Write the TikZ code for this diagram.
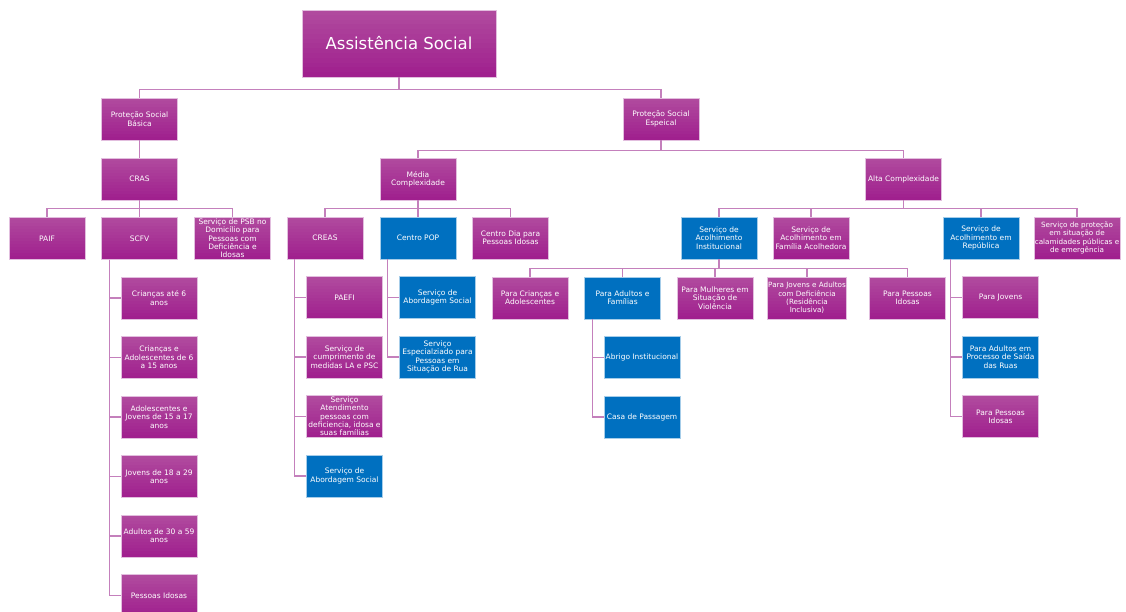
\documentclass[tikz,border=0pt]{standalone}
\usepackage{fontspec}
\setmainfont{DejaVu Sans}
\usetikzlibrary{positioning, calc}

\definecolor{magTop}{RGB}{176,74,158}
\definecolor{magBot}{RGB}{160,32,142}
\definecolor{popBlue}{RGB}{0,112,192}
\definecolor{linkPink}{RGB}{196,128,188}
\definecolor{rimPink}{RGB}{226,190,222}

\newcommand\unitfont{\fontsize{7.5}{8.3}\selectfont}
\newcommand\tightfont{\fontsize{7.2}{8.3}\selectfont}
\newcommand\rootfont{\fontsize{16.5}{19}\selectfont}

\tikzset{
  unit/.style={rectangle, minimum width=76pt, minimum height=42pt, inner sep=1pt,
    align=center, text=white, font=\unitfont, draw=rimPink, line width=0.6pt,
    fill=magBot, path picture={
      \foreach \k in {0,...,13}{
        \pgfmathsetmacro\mix{100-\k*100/13}
        \fill[magTop!\mix!magBot]
          ($(path picture bounding box.north west)!{\k/14}!(path picture bounding box.south west)$)
          rectangle ($(path picture bounding box.north east)!{(\k+1.4)/14}!(path picture bounding box.south east)$);
      }}},
  blueunit/.style={rectangle, minimum width=76pt, minimum height=42pt, inner sep=1pt,
    align=center, text=white, font=\unitfont, draw=popBlue!35!white, line width=0.6pt,
    fill=popBlue},
  link/.style={draw=linkPink, line width=1.2pt}
}

\begin{document}
\begin{tikzpicture}[x=1pt, y=1pt, node distance = 59.5pt and 19.5pt, on grid]
    \useasboundingbox (0,0) rectangle (1126,-612);

    % top of the tree
    \node[unit, minimum width=194pt, minimum height=67pt, font=\rootfont] (root) at (399,-43.5) {Assistência Social};
    \node[unit] (basica) at (139.5,-119) {Proteção Social\\Básica};
    \node[unit] (especial) at (661,-119) {Proteção Social\\Espeical};

    % protecao basica
    \node[unit, below=60pt of basica] (cras) {CRAS};
    \node[unit, below=of cras] (scfv) {SCFV};
    \node[unit, left=92.5pt of scfv] (paif) {PAIF};
    \node[unit, right=93pt of scfv] (psb) {Serviço de PSB no\\Domicílio para\\Pessoas com\\Deficiência e\\Idosas};
    \node[unit, below right=of scfv] (sc1) {Crianças até 6\\anos};
    \node[unit, below=of sc1] (sc2) {Crianças e\\Adolescentes de 6\\a 15 anos};
    \node[unit, below=of sc2] (sc3) {Adolescentes e\\Jovens de 15 a 17\\anos};
    \node[unit, below=of sc3] (sc4) {Jovens de 18 a 29\\anos};
    \node[unit, below=of sc4] (sc5) {Adultos de 30 a 59\\anos};
    \node[unit, below=of sc5] (sc6) {Pessoas Idosas};

    % media complexidade
    \node[unit] (media) at (418,-179) {Média\\Complexidade};
    \node[unit] (creas) at (325,-238) {CREAS};
    \node[blueunit, right=93pt of creas] (pop) {Centro POP};
    \node[unit, right=92.5pt of pop] (dia) {Centro Dia para\\Pessoas Idosas};
    \node[unit, below right=of creas] (cr1) {PAEFI};
    \node[unit, below=of cr1] (cr2) {Serviço de\\cumprimento de\\medidas LA e PSC};
    \node[unit, below=of cr2] (cr3) {Serviço\\Atendimento\\pessoas com\\deficiencia, idosa e\\suas famílias};
    \node[blueunit, below=of cr3] (cr4) {Serviço de\\Abordagem Social};
    \node[blueunit, below right=of pop] (po1) {Serviço de\\Abordagem Social};
    \node[blueunit, below=of po1] (po2) {Serviço\\Especialziado para\\Pessoas em\\Situação de Rua};

    % alta complexidade
    \node[unit] (alta) at (903.5,-179) {Alta Complexidade};
    \node[blueunit] (inst) at (719,-238) {Serviço de\\Acolhimento\\Institucional};
    \node[unit] (familia) at (811,-238) {Serviço de\\Acolhimento em\\Família Acolhedora};
    \node[blueunit] (rep) at (981,-238) {Serviço de\\Acolhimento em\\República};
    \node[unit, minimum width=82pt, font=\tightfont] (calam) at (1077,-238) {Serviço de proteção\\em situação de\\calamidades públicas e\\de emergência};

    \node[unit] (in1) at (530,-298) {Para Crianças e\\Adolescentes};
    \node[blueunit] (in2) at (622.5,-298) {Para Adultos e\\Famílias};
    \node[unit] (in3) at (715,-298) {Para Mulheres em\\Situação de\\Violência};
    \node[unit, font=\tightfont] (in4) at (807,-298) {Para Jovens e Adultos\\com Deficiência\\(Residência\\Inclusiva)};
    \node[unit] (in5) at (907.5,-298) {Para Pessoas\\Idosas};
    \node[blueunit, below right=of in2] (ad1) {Abrigo Institucional};
    \node[blueunit, below=of ad1] (ad2) {Casa de Passagem};

    \node[unit, below right=of rep] (re1) {Para Jovens};
    \node[blueunit, below=of re1] (re2) {Para Adultos em\\Processo de Saída\\das Ruas};
    \node[unit, below=of re2] (re3) {Para Pessoas\\Idosas};

    % connectors
    \foreach \c in {basica,especial}
        \draw[link] (root.south) -- ++(0,-12pt) -| (\c.north);
    \draw[link] (basica) -- (cras);
    \foreach \c in {paif,scfv,psb}
        \draw[link] (cras.south) -- ++(0,-8pt) -| (\c.north);
    \foreach \c in {media,alta}
        \draw[link] (especial.south) -- ++(0,-10pt) -| (\c.north);
    \foreach \c in {creas,pop,dia}
        \draw[link] (media.south) -- ++(0,-8pt) -| (\c.north);
    \foreach \c in {inst,familia,rep,calam}
        \draw[link] (alta.south) -- ++(0,-8pt) -| (\c.north);
    \foreach \c in {in1,in2,in3,in4,in5}
        \draw[link] (inst.south) -- ++(0,-9pt) -| (\c.north);

    \foreach \c in {sc1,sc2,sc3,sc4,sc5,sc6}
        \draw[link] ([xshift=8.5pt]scfv.south west) |- (\c.west);
    \foreach \c in {cr1,cr2,cr3,cr4}
        \draw[link] ([xshift=8pt]creas.south west) |- (\c.west);
    \foreach \c in {po1,po2}
        \draw[link] ([xshift=7.5pt]pop.south west) |- (\c.west);
    \foreach \c in {ad1,ad2}
        \draw[link] ([xshift=8pt]in2.south west) |- (\c.west);
    \foreach \c in {re1,re2,re3}
        \draw[link] ([xshift=8pt]rep.south west) |- (\c.west);
\end{tikzpicture}
\end{document}
